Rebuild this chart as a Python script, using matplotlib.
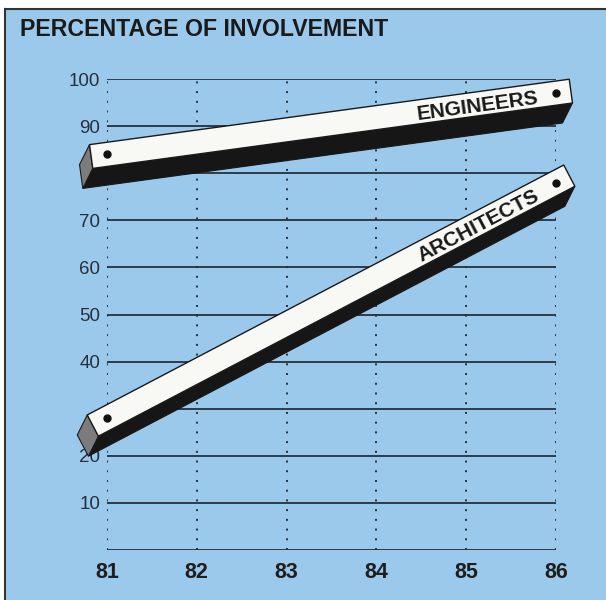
import numpy as np
import matplotlib.pyplot as plt
from matplotlib.patches import Polygon, Rectangle
from matplotlib.lines import Line2D
from matplotlib.transforms import IdentityTransform

# data
years = [81, 82, 83, 84, 85, 86]
yticks = [0, 10, 20, 30, 40, 50, 60, 70, 80, 90, 100]
ytick_labels = ['', '10', '20', '', '40', '50', '60', '70', '', '90', '100']

series_years = [81, 86]
engineers = [84, 97]
architects = [28, 78]

blue = '#9bc9eb'
ink = '#25303c'

fig = plt.figure(figsize=(6.06, 6.0), dpi=100)

# blue panel with a dark rule on top and left
fig.add_artist(Rectangle((5/606, 0), 1, 1 - 9/600, transform=fig.transFigure,
                         fc=blue, ec='none', zorder=-5))
fig.add_artist(Line2D([5/606, 1], [1 - 9/600, 1 - 9/600], transform=fig.transFigure,
                      color='#333333', lw=1.5))
fig.add_artist(Line2D([5/606, 5/606], [0, 1 - 9/600], transform=fig.transFigure,
                      color='#333333', lw=1.5))

ax = fig.add_axes([107/606, 50/600, 449/606, 471/600])
ax.set_facecolor('none')
ax.set_xlim(81, 86)
ax.set_ylim(0, 100)
for s in ax.spines.values():
    s.set_visible(False)

ax.hlines(yticks, 81, 86, color=ink, lw=1.3, zorder=1)
ax.vlines(years, 0, 100, color=ink, lw=1.4, linestyles=(0, (1, 4)), zorder=1)

ax.set_xticks(years)
ax.set_xticklabels([str(y) for y in years], fontsize=15.5, family='Liberation Sans',
                   weight='bold', color='#1e1e1e')
ax.set_yticks(yticks)
ax.set_yticklabels(ytick_labels, fontsize=13.5, family='Liberation Sans', color=ink)
ax.tick_params(axis='x', length=0, pad=9)
ax.tick_params(axis='y', length=0, pad=5)

fig.text(20/606, 1 - 30/600, 'PERCENTAGE OF INVOLVEMENT', fontsize=16.7,
         family='Liberation Sans', weight='bold', color='#1a1a1a', va='center')


def draw_bar(vals, label):
    p0 = ax.transData.transform((series_years[0], vals[0]))
    p1 = ax.transData.transform((series_years[-1], vals[-1]))
    u = (p1 - p0) / np.hypot(*(p1 - p0))
    n = np.array([-u[1], u[0]])
    h, e0, e1 = 12, 16, 15
    ext = np.array([-10, -20])
    A = p0 - e0 * u + h * n
    B = p1 + e1 * u + h * n
    C = p1 + e1 * u - h * n
    D = p0 - e0 * u - h * n
    tr = IdentityTransform()
    ax.add_artist(Polygon([D, C, C + ext, D + ext], transform=tr, clip_on=False,
                          fc='#161616', ec='#161616', lw=0.8, zorder=3))
    ax.add_artist(Polygon([A, D, D + ext, A + ext], transform=tr, clip_on=False,
                          fc='#7c7c7c', ec='#1a1a1a', lw=0.8, zorder=3))
    ax.add_artist(Polygon([A, B, C, D], transform=tr, clip_on=False,
                          fc='#f8f8f5', ec='#1a1a1a', lw=1.0, zorder=3))
    ax.plot(series_years, vals, 'o', color='#111111', ms=5, zorder=6, clip_on=False)
    # label sits along the bar, near its right end
    pos = p0 + 0.824 * (p1 - p0) - 2.5 * n
    ang = np.degrees(np.arctan2(u[1], u[0]))
    ax.text(pos[0], pos[1], label, transform=tr, rotation=ang, rotation_mode='anchor',
            ha='center', va='center', fontsize=15, family='Liberation Sans',
            weight='bold', color='#1a1a1a', zorder=7, clip_on=False)


draw_bar(engineers, 'ENGINEERS')
draw_bar(architects, 'ARCHITECTS')

fig.savefig('out.png', dpi=100, facecolor='white')
